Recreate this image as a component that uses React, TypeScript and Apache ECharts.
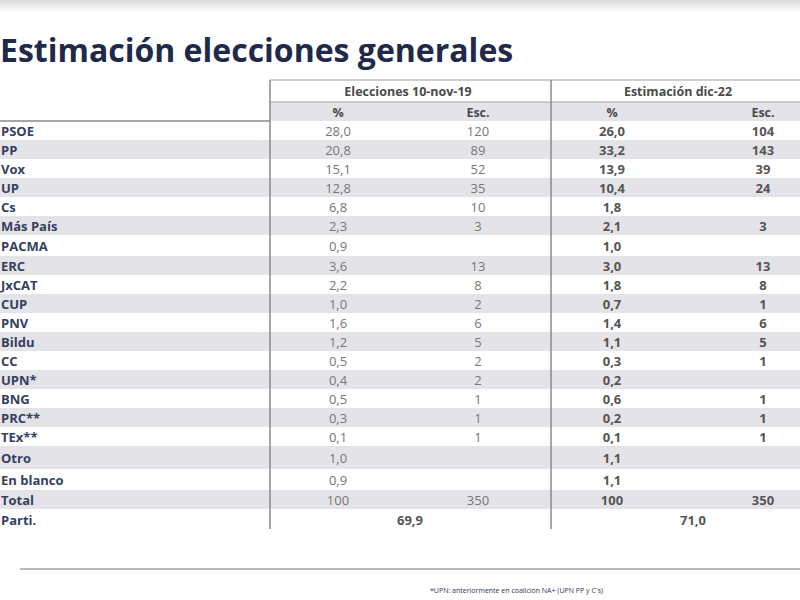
import React, { useEffect, useRef } from "react";
import * as echarts from "echarts";

const title = "Estimación elecciones generales";
const groupHeaders = ["Elecciones 10-nov-19", "Estimación dic-22"];
const subHeaders = ["%", "Esc.", "%", "Esc."];
const parties = ["PSOE", "PP", "Vox", "UP", "Cs", "Más País", "PACMA", "ERC", "JxCAT", "CUP", "PNV", "Bildu", "CC", "UPN*", "BNG", "PRC**", "TEx**", "Otro", "En blanco", "Total"];
const pct2019 = [28.0, 20.8, 15.1, 12.8, 6.8, 2.3, 0.9, 3.6, 2.2, 1.0, 1.6, 1.2, 0.5, 0.4, 0.5, 0.3, 0.1, 1.0, 0.9, 100];
const seats2019 = [120, 89, 52, 35, 10, 3, null, 13, 8, 2, 6, 5, 2, 2, 1, 1, 1, null, null, 350];
const pct2022 = [26.0, 33.2, 13.9, 10.4, 1.8, 2.1, 1.0, 3.0, 1.8, 0.7, 1.4, 1.1, 0.3, 0.2, 0.6, 0.2, 0.1, 1.1, 1.1, 100];
const seats2022 = [104, 143, 39, 24, null, 3, null, 13, 8, 1, 6, 5, 1, null, 1, 1, 1, null, null, 350];
const turnoutLabel = "Parti.";
const turnout = [69.9, 71.0];
const footnote = "*UPN: anteriormente en coalición NA+ (UPN PP y C´s)";

// layout (not data)
const rowHeights = [19, 19, 19, 19, 19, 19, 21, 19, 19, 19, 19, 19, 19, 19, 19, 19, 19, 23, 21, 19, 21];
const tableTop = 121;
const colX = [338, 478, 612, 763];
const groupX = [408, 678];
const turnoutX = [410, 693];
const vLines = [270, 551];

const FONT = "'Open Sans', 'Noto Sans', sans-serif";

function fmtPct(v: number | null): string {
  if (v === null || v === undefined) return "";
  if (v === 100) return "100";
  return v.toFixed(1).replace(".", ",");
}
function fmtInt(v: number | null): string {
  return v === null || v === undefined ? "" : String(v);
}

export default function App() {
  const ref = useRef<HTMLDivElement>(null);
  useEffect(() => {
    if (!ref.current) return;
    const chart = echarts.init(ref.current, undefined, { renderer: "svg" });
    const els: any[] = [];
    // top shade
    els.push({
      type: "rect",
      shape: { x: 0, y: 0, width: 800, height: 12 },
      style: {
        fill: new echarts.graphic.LinearGradient(0, 0, 0, 1, [
          { offset: 0, color: "#d8d8d8" },
          { offset: 1, color: "#ffffff" },
        ]),
      },
      silent: true,
    });
    els.push({
      type: "text",
      x: 0,
      y: 49,
      style: {
        text: title,
        font: `bold 32px ${FONT}`,
        fill: "#1f2a4a",
        verticalAlign: "middle",
        align: "left",
      },
    });
    // header grey band
    els.push({ type: "rect", shape: { x: 270, y: 102, width: 530, height: 19 }, style: { fill: "#e4e4e8" } });
    // stripes
    let y = tableTop;
    const rowCenters: number[] = [];
    for (let i = 0; i < rowHeights.length; i++) {
      if (i % 2 === 1) {
        els.push({ type: "rect", shape: { x: 0, y, width: 800, height: rowHeights[i] }, style: { fill: "#e4e4e8" } });
      }
      rowCenters.push(y + rowHeights[i] / 2);
      y += rowHeights[i];
    }
    // lines
    els.push({ type: "line", shape: { x1: 270, y1: 80, x2: 800, y2: 80 }, style: { stroke: "#a0a0a0", lineWidth: 1 } });
    els.push({ type: "line", shape: { x1: 270, y1: 102, x2: 800, y2: 102 }, style: { stroke: "#a0a0a0", lineWidth: 1 } });
    els.push({ type: "line", shape: { x1: 0, y1: 121, x2: 270, y2: 121 }, style: { stroke: "#8a8a8a", lineWidth: 1.5 } });
    vLines.forEach((x) => {
      els.push({ type: "line", shape: { x1: x, y1: 80, x2: x, y2: 529 }, style: { stroke: "#8a8a8a", lineWidth: 1.5 } });
    });
    // headers
    groupHeaders.forEach((t, i) => {
      els.push({ type: "text", x: groupX[i], y: 91, style: { text: t, font: `bold 12.5px ${FONT}`, fill: "#4a4a4a", align: "center", verticalAlign: "middle" } });
    });
    subHeaders.forEach((t, i) => {
      els.push({ type: "text", x: colX[i], y: 112, style: { text: t, font: `bold 12.5px ${FONT}`, fill: "#4a4a4a", align: "center", verticalAlign: "middle" } });
    });
    // rows
    parties.forEach((p, i) => {
      const cy = rowCenters[i];
      els.push({ type: "text", x: 1, y: cy, style: { text: p, font: `bold 13px ${FONT}`, fill: "#34405e", align: "left", verticalAlign: "middle" } });
      const vals = [fmtPct(pct2019[i]), fmtInt(seats2019[i]), fmtPct(pct2022[i]), fmtInt(seats2022[i])];
      vals.forEach((v, j) => {
        if (!v) return;
        els.push({
          type: "text",
          x: colX[j],
          y: cy,
          style: {
            text: v,
            font: `${j >= 2 ? "bold " : ""}13px ${FONT}`,
            fill: j >= 2 ? "#555555" : "#777777",
            align: "center",
            verticalAlign: "middle",
          },
        });
      });
    });
    const ty = rowCenters[parties.length];
    els.push({ type: "text", x: 1, y: ty, style: { text: turnoutLabel, font: `bold 13px ${FONT}`, fill: "#34405e", align: "left", verticalAlign: "middle" } });
    turnout.forEach((v, i) => {
      els.push({ type: "text", x: turnoutX[i], y: ty, style: { text: fmtPct(v), font: `bold 13px ${FONT}`, fill: "#555555", align: "center", verticalAlign: "middle" } });
    });
    // bottom line + footnote
    els.push({ type: "line", shape: { x1: 20, y1: 569, x2: 800, y2: 569 }, style: { stroke: "#b8b8b8", lineWidth: 2 } });
    els.push({ type: "text", x: 430, y: 590, style: { text: footnote, font: `7px ${FONT}`, fill: "#2c3656", align: "left", verticalAlign: "middle" } });

    chart.setOption({ animation: false, backgroundColor: "#ffffff", graphic: { elements: els } });
    return () => chart.dispose();
  }, []);
  return <div ref={ref} style={{ position: "fixed", left: 0, top: 0, width: 800, height: 600 }} />;
}
